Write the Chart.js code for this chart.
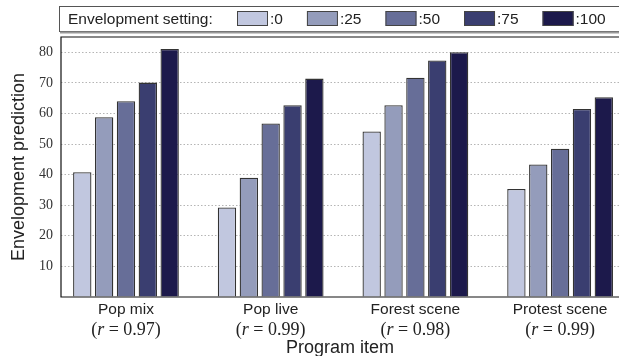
<!DOCTYPE html>
<html>
<head>
<meta charset="utf-8">
<script src="https://cdn.jsdelivr.net/npm/chart.js@4"></script>
<style>
  body { margin: 0; background: #fff; }
  #wrap { width: 619px; height: 356px; position: relative; }
</style>
</head>
<body>
<div id="wrap"><canvas id="chartCanvas"></canvas></div>
<script>
const categories = ["Pop mix", "Pop live", "Forest scene", "Protest scene"];
const rValues = ["0.97", "0.99", "0.98", "0.99"];
const settings = ["0", "25", "50", "75", "100"];

const setting0 = [40.8, 29.3, 54.1, 35.3];
const setting25 = [58.8, 39.0, 62.7, 43.3];
const setting50 = [64.0, 56.7, 71.7, 48.5];
const setting75 = [70.1, 62.7, 77.3, 61.5];
const setting100 = [81.1, 71.4, 80.0, 65.3];

const yTicks = [10, 20, 30, 40, 50, 60, 70, 80];

const colors = ["#c1c7df", "#949cbb", "#676e98", "#3a3e70", "#1c194b"];
const series = [setting0, setting25, setting50, setting75, setting100];

const sansFont = "'Liberation Sans', Arial, sans-serif";
const serifFont = "'Liberation Serif', 'Times New Roman', serif";

// frame round the plot, r-values under the ticks, legend box on top
const extrasPlugin = {
    id: "extras",
    afterDraw(chart) {
        const ctx = chart.ctx;
        const area = chart.chartArea;
        const xs = chart.scales.x;
        ctx.save();

        ctx.strokeStyle = "#111";
        ctx.lineWidth = 1.2;
        ctx.beginPath();
        ctx.moveTo(chart.width + 2, area.top);
        ctx.lineTo(area.left, area.top);
        ctx.lineTo(area.left, area.bottom);
        ctx.lineTo(chart.width + 2, area.bottom);
        ctx.stroke();

        // (r = ...) lines
        ctx.fillStyle = "#222";
        ctx.textBaseline = "middle";
        ctx.textAlign = "left";
        rValues.forEach(function (r, i) {
            const parts = [
                { t: "(", f: "18px " + serifFont },
                { t: "r", f: "italic 18px " + serifFont },
                { t: " = ", f: "18px " + serifFont },
                { t: r + ")", f: "18px " + serifFont }
            ];
            let total = 0;
            parts.forEach(p => { ctx.font = p.f; p.w = ctx.measureText(p.t).width; total += p.w; });
            let x = xs.getPixelForValue(i) - total / 2;
            parts.forEach(p => { ctx.font = p.f; ctx.fillText(p.t, x, 330); x += p.w; });
        });

        // legend
        const top = 6.5, h = 25;
        ctx.strokeStyle = "#555";
        ctx.lineWidth = 1;
        ctx.strokeRect(59.5, top, chart.width, h);
        ctx.strokeStyle = "#999";
        ctx.lineWidth = 2;
        ctx.beginPath();
        ctx.moveTo(60, top + h + 1);
        ctx.lineTo(chart.width, top + h + 1);
        ctx.stroke();

        ctx.font = "15.5px " + sansFont;
        ctx.fillStyle = "#222";
        ctx.fillText("Envelopment setting:", 68, top + h / 2 + 0.5);
        let lx = 237;
        chart.data.datasets.forEach(function (ds) {
            ctx.fillStyle = ds.backgroundColor;
            ctx.fillRect(lx, 11, 31, 15);
            ctx.strokeStyle = "#444";
            ctx.lineWidth = 1;
            ctx.strokeRect(lx + 0.5, 11.5, 30, 14);
            ctx.fillStyle = "#222";
            const txt = ":" + ds.label;
            ctx.fillText(txt, lx + 33, top + h / 2 + 0.5);
            lx += 33 + ctx.measureText(txt).width + 24;
        });
        ctx.restore();
    }
};

const ctx = document.getElementById("chartCanvas").getContext("2d");

new Chart(ctx, {
    type: "bar",
    data: {
        datasets: series.map((vals, k) => ({
            label: settings[k],
            data: vals.map((v, i) => ({ x: i, y: v })),
            backgroundColor: colors[k],
            borderColor: "#333",
            borderWidth: 1.3,
            categoryPercentage: 0.755,
            barPercentage: 0.84
        }))
    },
    options: {
        responsive: true,
        maintainAspectRatio: false,
        animation: false,
        layout: { padding: { top: 37, right: 0, left: 0, bottom: 0 } },
        plugins: {
            legend: { display: false },
            tooltip: { enabled: false }
        },
        scales: {
            x: {
                type: "linear",
                offset: false,
                min: -0.449,
                max: 3.407,
                grid: { display: false, drawTicks: false, offset: false },
                border: { display: false },
                afterBuildTicks: scale => { scale.ticks = categories.map((c, i) => ({ value: i })); },
                afterFit: scale => { scale.height = 59; },
                ticks: {
                    autoSkip: false,
                    maxRotation: 0,
                    padding: 3,
                    color: "#222",
                    font: { family: sansFont, size: 15.5 },
                    callback: v => categories[v]
                },
                title: {
                    display: true,
                    text: "Program item",
                    color: "#222",
                    font: { family: sansFont, size: 18 },
                    padding: { top: 0, bottom: -3 }
                }
            },
            y: {
                min: 0,
                max: 85,
                afterBuildTicks: scale => { scale.ticks = [0].concat(yTicks).map(v => ({ value: v })); },
                afterFit: scale => { scale.width = 61; },
                grid: {
                    drawTicks: false,
                    color: c => (c.tick && c.tick.value === 0 ? "rgba(0,0,0,0)" : "#b5b5b5"),
                    lineWidth: 1
                },
                border: { display: false, dash: [1.5, 2] },
                ticks: {
                    padding: 8,
                    color: "#333",
                    font: { family: serifFont, size: 14 },
                    callback: v => (v === 0 ? "" : v)
                },
                title: {
                    display: true,
                    text: "Envelopment prediction",
                    color: "#222",
                    font: { family: sansFont, size: 18 },
                    padding: { top: 8, bottom: 0 }
                }
            }
        }
    },
    plugins: [extrasPlugin]
});
</script>
</body>
</html>
